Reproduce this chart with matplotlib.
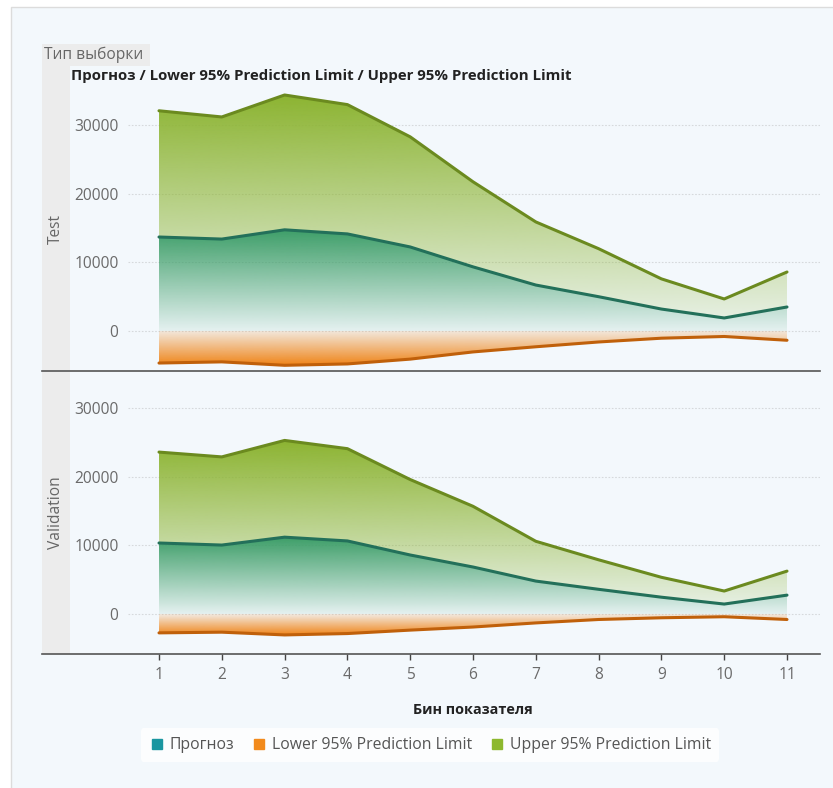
import numpy as np
import matplotlib
matplotlib.use("Agg")
import matplotlib.pyplot as plt
from matplotlib.lines import Line2D
from matplotlib.patches import Rectangle
from matplotlib.colors import to_rgb

plt.rcParams["font.family"] = ["Open Sans", "DejaVu Sans"]

# bins of the indicator
bins = [1, 2, 3, 4, 5, 6, 7, 8, 9, 10, 11]

test_forecast = [13700, 13400, 14750, 14150, 12250, 9350, 6700, 5000, 3200, 1900, 3500]
test_lower = [-4670, -4500, -5000, -4800, -4100, -3050, -2300, -1600, -1050, -800, -1350]
test_upper = [32100, 31200, 34400, 33000, 28300, 21750, 15900, 12000, 7600, 4670, 8600]

val_forecast = [10350, 10050, 11200, 10650, 8600, 6850, 4800, 3600, 2450, 1450, 2750]
val_lower = [-2750, -2650, -3050, -2850, -2350, -1900, -1300, -800, -550, -400, -800]
val_upper = [23600, 22900, 25300, 24100, 19600, 15700, 10600, 7900, 5350, 3350, 6250]

panels = ["Test", "Validation"]
yticks = [0, 10000, 20000, 30000]

W, H = 833, 788
BG = "#f3f8fc"
C_UP, C_UP_LINE = "#8cb431", "#6b8a1f"
C_FC, C_FC_LINE = "#3d9e68", "#23705a"
C_LO, C_LO_LINE = "#f08519", "#c0600a"


def fx(px):
    return px / W


def fy(py):
    return 1 - py / H


def gradient_fill(ax, x, lo, hi, color, v_strong, a_strong=1.0, a_weak=0.08):
    """Fill between lo and hi with a vertical alpha ramp: strong at v_strong, weak at 0."""
    poly = ax.fill_between(x, lo, hi, facecolor="none", edgecolor="none")
    n = 256
    ramp = np.linspace(a_weak, a_strong, n)
    rgba = np.zeros((n, 1, 4))
    rgba[..., :3] = to_rgb(color)
    rgba[:, 0, 3] = ramp
    y0, y1 = (0, v_strong) if v_strong > 0 else (v_strong, 0)
    if v_strong < 0:
        rgba = rgba[::-1]
    im = ax.imshow(rgba, origin="lower", aspect="auto", interpolation="bicubic",
                   extent=[min(x), max(x), y0, y1], zorder=1)
    im.set_clip_path(poly.get_paths()[0], ax.transData)
    poly.remove()


fig = plt.figure(figsize=(W / 100, H / 100), dpi=100, facecolor="white")

# report panel background
fig.add_artist(Rectangle((fx(11), -0.01), 1.01 - fx(11), fy(7) + 0.01, transform=fig.transFigure,
                         facecolor=BG, edgecolor="#dcdcdc", lw=1, zorder=-10))
# row header
fig.add_artist(Rectangle((fx(42), fy(66)), fx(150) - fx(42), fy(44) - fy(66),
                         transform=fig.transFigure, facecolor="#ececec", edgecolor="none", zorder=-5))
fig.text(fx(44), fy(55), "Тип выборки", fontsize=11.2, color="#666666", va="center", ha="left")
fig.add_artist(Rectangle((fx(42), fy(654)), fx(70) - fx(42), fy(66) - fy(654),
                         transform=fig.transFigure, facecolor="#ececec", edgecolor="none", zorder=-5))
fig.text(fx(71), fy(76), "Прогноз / Lower 95% Prediction Limit / Upper 95% Prediction Limit",
         fontsize=10.8, fontweight="bold", color="#222222", va="center", ha="left")

xlim = (1 - (159 - 70) / 62.8, 11 + (820 - 787) / 62.8)
ylim = (-5830, 35420)
tops = [88, 371]
bottoms = [371, 654]
series = [(test_forecast, test_lower, test_upper), (val_forecast, val_lower, val_upper)]

axes = []
for i, name in enumerate(panels):
    fc, lo, up = series[i]
    ax = fig.add_axes([fx(70), fy(bottoms[i]), fx(820) - fx(70), fy(tops[i]) - fy(bottoms[i])])
    ax.set_facecolor("none")
    ax.set_xlim(*xlim)
    ax.set_ylim(*ylim)
    for s in ax.spines.values():
        s.set_visible(False)

    ax.hlines(yticks, 0.5, xlim[1], colors="#d6d9dc", linestyles=(0, (1.5, 1.5)), lw=0.8, zorder=0)

    gradient_fill(ax, bins, fc, up, C_UP, max(up), a_weak=0.08)
    gradient_fill(ax, bins, 0, fc, C_FC, max(fc), a_weak=0.08)
    gradient_fill(ax, bins, lo, 0, C_LO, min(lo), a_weak=0.12)

    ax.plot(bins, up, color=C_UP_LINE, lw=2.2, zorder=3, solid_capstyle="round")
    ax.plot(bins, fc, color=C_FC_LINE, lw=2.2, zorder=3, solid_capstyle="round")
    ax.plot(bins, lo, color=C_LO_LINE, lw=2.2, zorder=3, solid_capstyle="round")

    ax.set_yticks(yticks)
    ax.set_yticklabels([str(v) for v in yticks])
    ax.tick_params(axis="y", length=0, pad=-35, labelsize=11.2, labelcolor="#6a6a6a")
    ax.set_xticks(bins)
    if i == 0:
        ax.tick_params(axis="x", length=0, labelbottom=False)
    else:
        ax.set_xticklabels([str(b) for b in bins])
        ax.tick_params(axis="x", direction="out", length=4.5, width=1, color="#444444",
                       pad=5, labelsize=11.2, labelcolor="#6a6a6a")

    fig.text(fx(56), (fy(tops[i]) + fy(bottoms[i])) / 2, name, rotation=90,
             fontsize=11.2, color="#666666", ha="center", va="center")
    axes.append(ax)

# panel separators / x axis line
for yy in bottoms:
    fig.add_artist(Line2D([fx(42), fx(820)], [fy(yy), fy(yy)], transform=fig.transFigure,
                          color="#555555", lw=1.2))

fig.text(fx(473), fy(710), "Бин показателя", fontsize=10.4, fontweight="bold",
         color="#222222", ha="center", va="center")

handles = [
    Line2D([], [], ls="none", marker="s", markersize=7, color="#1a96a0", label="Прогноз"),
    Line2D([], [], ls="none", marker="s", markersize=7, color="#f28a1c", label="Lower 95% Prediction Limit"),
    Line2D([], [], ls="none", marker="s", markersize=7, color="#8db82e", label="Upper 95% Prediction Limit"),
]
leg = fig.legend(handles=handles, loc="center", bbox_to_anchor=(fx(430), fy(745)), ncol=3,
                 frameon=True, fontsize=11.3, handletextpad=0.3, columnspacing=1.1,
                 handlelength=1.0, borderpad=0.55, fancybox=True)
leg.get_frame().set_facecolor("white")
leg.get_frame().set_edgecolor("none")
for t in leg.get_texts():
    t.set_color("#555555")

fig.savefig("out.png", dpi=100, facecolor="white")
